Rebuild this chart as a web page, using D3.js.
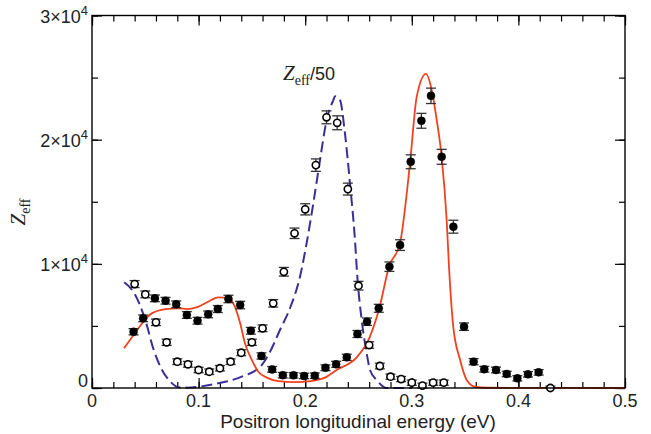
<!DOCTYPE html>
<html>
<head>
<meta charset="utf-8">
<script src="https://cdn.jsdelivr.net/npm/d3@7"></script>
<style>
  body { margin: 0; background: #fff; }
  text { font-family: "Liberation Sans", Arial, sans-serif; }
</style>
</head>
<body>
<svg id="chart" width="651" height="434"></svg>
<script>
// filled points (measured) with error
var filledE = [0.039,0.048,0.059,0.069,0.079,0.089,0.099,0.109,0.118,0.128,0.139,0.149,0.159,0.169,0.179,0.189,0.199,0.209,0.219,0.229,0.239,0.249,0.258,0.269,0.279,0.289,0.299,0.309,0.318,0.328,0.339,0.349,0.358,0.368,0.379,0.389,0.399,0.409,0.419];
var filledZ = [4530,5610,7220,7030,6740,5880,5420,5930,6360,7170,6680,4610,2580,1500,1030,1020,970,990,1630,1910,2470,4350,5340,6420,9770,11510,18220,21520,23530,18620,12990,4940,2120,1510,1450,1130,780,1100,1260];
var filledErr = [250,270,270,270,270,270,270,270,280,300,300,270,250,230,220,220,220,220,230,240,250,280,300,320,380,430,560,600,620,600,520,300,250,230,230,220,210,220,220];

// open points (Zeff/50)
var openE = [0.04,0.05,0.06,0.07,0.08,0.09,0.10,0.11,0.12,0.13,0.14,0.15,0.16,0.17,0.18,0.19,0.20,0.21,0.22,0.23,0.24,0.25,0.26,0.27,0.28,0.29,0.30,0.31,0.32,0.33,0.43];
var openZ = [8370,7540,5290,3680,2120,1910,1450,1310,1590,2120,2840,3680,4810,6820,9360,12460,14390,17950,21800,21360,16020,8240,3460,1770,910,720,430,190,430,430,0];
var openErr = [280,270,260,250,230,230,220,220,220,230,240,250,270,300,350,420,450,500,520,560,480,350,260,230,210,210,210,200,210,210,150];

// theory curves
var redE = [0.030,0.039,0.047,0.056,0.069,0.081,0.090,0.100,0.109,0.1185,0.128,0.134,0.139,0.1435,0.150,0.156,0.165,0.175,0.190,0.205,0.220,0.2295,0.2483,0.260,0.2695,0.2786,0.2889,0.2983,0.3046,0.3133,0.3187,0.3234,0.328,0.3327,0.3349,0.3389,0.3452,0.3515,0.3593,0.370,0.500];
var redZ = [3200,4270,5210,6010,6360,6420,6360,6550,6950,7300,7220,6550,5210,3600,2250,1310,800,550,480,560,900,1450,2470,4000,6420,9770,11650,18090,23450,25300,23990,21580,18620,13530,9770,4940,2300,650,100,20,0];
var blueE = [0.0303,0.0406,0.050,0.0579,0.0657,0.0735,0.0813,0.090,0.0997,0.1185,0.1404,0.1592,0.167,0.1763,0.1857,0.1951,0.2013,0.2076,0.2139,0.2201,0.2264,0.228,0.2326,0.2373,0.242,0.2467,0.2489,0.253,0.2577,0.2608,0.2671,0.2764,0.300];
var blueZ = [8510,7490,5470,3060,1450,510,60,30,100,380,910,1850,2920,4670,6420,8960,11650,14870,18360,21580,23190,23500,23190,20500,16480,11900,8960,5470,2790,1450,640,0,0];

var xTicks = [0,0.1,0.2,0.3,0.4,0.5];
var xTickLabels = ["0","0.1","0.2","0.3","0.4","0.5"];
var yTicks = [0,10000,20000,30000];
var yTickMant = ["0","1\u00d710","2\u00d710","3\u00d710"];
var yTickExp = ["","4","4","4"];

var svg = d3.select("#chart");
var x = d3.scaleLinear().domain([0,0.5]).range([92,625]);
var y = d3.scaleLinear().domain([0,30000]).range([388,15.5]);

// ticks, inward on all sides
var minorX = d3.range(0,0.5001,0.02), minorY = d3.range(0,30001,5000);
function tickAxis(axis, scale, vals, size, tr) {
  svg.append("g").attr("transform", tr)
    .call(axis(scale).tickValues(vals).tickSize(size).tickFormat(""))
    .call(function(g){ g.select(".domain").remove(); g.selectAll("line").attr("stroke","#000").attr("stroke-width",1.2); });
}
tickAxis(d3.axisBottom, x, minorX, -6, "translate(0,388)");
tickAxis(d3.axisBottom, x, xTicks, -10, "translate(0,388)");
tickAxis(d3.axisTop, x, minorX, -6, "translate(0,15.5)");
tickAxis(d3.axisTop, x, xTicks, -10, "translate(0,15.5)");
tickAxis(d3.axisLeft, y, minorY, -6, "translate(92,0)");
tickAxis(d3.axisLeft, y, yTicks, -10, "translate(92,0)");
tickAxis(d3.axisRight, y, minorY, -6, "translate(625,0)");
tickAxis(d3.axisRight, y, yTicks, -10, "translate(625,0)");

// curves
var line = d3.line().x(function(d){return x(d[0]);}).y(function(d){return y(d[1]);}).curve(d3.curveMonotoneX);
svg.append("path").datum(blueE.map(function(e,i){return [e,blueZ[i]];}))
  .attr("d", line).attr("fill","none").attr("stroke","#3a2f97").attr("stroke-width",2)
  .attr("stroke-dasharray","11,5");
svg.append("path").datum(redE.map(function(e,i){return [e,redZ[i]];}))
  .attr("d", line).attr("fill","none").attr("stroke","#f0421f").attr("stroke-width",1.8);

// error bars + points
function points(E, Z, Err, filled) {
  var g = svg.append("g");
  var d = E.map(function(e,i){return {e:e, z:Z[i], s:Err[i]};});
  var eb = g.selectAll("g.eb").data(d).enter().append("g").attr("stroke","#333").attr("stroke-width",1.3);
  eb.append("line").attr("x1",function(d){return x(d.e);}).attr("x2",function(d){return x(d.e);})
    .attr("y1",function(d){return y(d.z+d.s);}).attr("y2",function(d){return y(Math.max(d.z-d.s,0));});
  eb.append("line").attr("x1",function(d){return x(d.e)-5;}).attr("x2",function(d){return x(d.e)+5;})
    .attr("y1",function(d){return y(d.z+d.s);}).attr("y2",function(d){return y(d.z+d.s);});
  eb.append("line").attr("x1",function(d){return x(d.e)-5;}).attr("x2",function(d){return x(d.e)+5;})
    .attr("y1",function(d){return y(Math.max(d.z-d.s,0));}).attr("y2",function(d){return y(Math.max(d.z-d.s,0));});
  g.selectAll("circle").data(d).enter().append("circle")
    .attr("cx",function(d){return x(d.e);}).attr("cy",function(d){return y(d.z);})
    .attr("r", filled ? 4 : 3.6)
    .attr("fill", filled ? "#000" : "#fff").attr("stroke","#000").attr("stroke-width", filled ? 0.5 : 1.6);
}
points(openE, openZ, openErr, false);
points(filledE, filledZ, filledErr, true);

// frame
svg.append("rect").attr("x",92).attr("y",15.5).attr("width",533).attr("height",372.5)
  .attr("fill","none").attr("stroke","#000").attr("stroke-width",1.4);

// tick labels
svg.selectAll("text.xl").data(xTicks).enter().append("text")
  .attr("x",function(d){return x(d);}).attr("y",407).attr("text-anchor","middle")
  .attr("font-size",18).attr("fill","#222").text(function(d,i){return xTickLabels[i];});
var yl = svg.selectAll("text.yl").data(yTicks).enter().append("text")
  .attr("x",88).attr("y",function(d,i){return i===0 ? y(d)-1 : y(d)+7;}).attr("text-anchor","end")
  .attr("font-size",18).attr("fill","#222");
yl.append("tspan").text(function(d,i){return yTickMant[i];});
yl.append("tspan").attr("dy",-8).attr("font-size",13).text(function(d,i){return yTickExp[i];});

// axis titles
svg.append("text").attr("x",358).attr("y",428).attr("text-anchor","middle")
  .attr("font-size",19).attr("fill","#222").text("Positron longitudinal energy (eV)");
var yt = svg.append("text").attr("transform","translate(25,212) rotate(-90)").attr("text-anchor","middle").attr("fill","#222");
yt.append("tspan").attr("font-family","Liberation Serif").attr("font-style","italic").attr("font-size",21).text("Z");
yt.append("tspan").attr("font-family","Liberation Serif").attr("font-size",14).attr("dy",5).text("eff");

var lab = svg.append("text").attr("x",283).attr("y",80).attr("fill","#222");
lab.append("tspan").attr("font-family","Liberation Serif").attr("font-style","italic").attr("font-size",21).text("Z");
lab.append("tspan").attr("font-family","Liberation Serif").attr("font-size",14).attr("dy",5).text("eff");
lab.append("tspan").attr("font-size",18).attr("dy",-5).text("/50");
</script>
</body>
</html>
